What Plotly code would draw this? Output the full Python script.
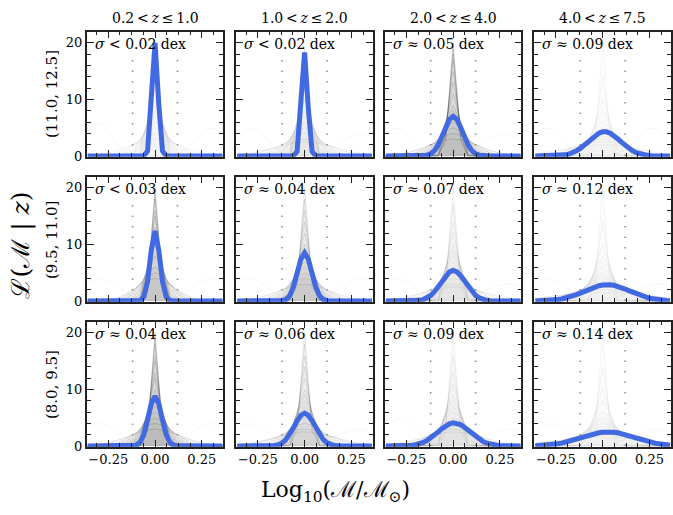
import numpy as np
import plotly.graph_objects as go

# ---------------- data ----------------
Z_EDGES = [(0.2, 1.0), (1.0, 2.0), (2.0, 4.0), (4.0, 7.5)]
MASS_BINS = ["(11.0, 12.5]", "(9.5, 11.0]", "(8.0, 9.5]"]

SIGMA_OP = [["&lt;", "&lt;", "≈", "≈"],
            ["&lt;", "≈", "≈", "≈"],
            ["≈", "≈", "≈", "≈"]]
SIGMA_VAL = [[0.02, 0.02, 0.05, 0.09],
             [0.03, 0.04, 0.07, 0.12],
             [0.04, 0.06, 0.09, 0.14]]

# blue summary curves: peak height, width (dex) and centre
BLUE_PEAK = [[20.0, 18.3, 7.0, 4.3],
             [12.4, 8.5, 5.4, 2.9],
             [8.8, 5.8, 4.1, 2.5]]
BLUE_WIDTH = [[0.016, 0.016, 0.05, 0.085],
              [0.025, 0.038, 0.065, 0.12],
              [0.035, 0.055, 0.085, 0.14]]
BLUE_CENTER = [[0.0, 0.0, 0.0, 0.01],
               [0.0, 0.0, 0.0, 0.025],
               [0.0, 0.0, 0.005, 0.03]]

# grey individual likelihoods: peak heights per panel
GRAY_PEAKS = [
    [[20, 17, 14, 12, 10, 9, 8, 7, 6, 5, 4, 3],
     [19, 16, 14, 12, 10, 8, 7, 6, 5, 4, 3, 2.5],
     [20, 19, 18, 17, 15, 13, 11, 9, 8, 7, 6, 5, 4, 3],
     [20, 14, 10, 8, 6, 5, 4.5, 4, 3.5, 3, 2.5, 2]],
    [[20, 19, 18, 16, 15, 13, 12, 10, 8, 6, 5, 4],
     [20, 18, 16, 14, 12, 10, 9, 8, 7, 6, 5, 4, 3],
     [20, 17, 14, 12, 10, 9, 8, 7, 6, 5, 4, 3, 2.5],
     [20, 14, 10, 8, 7, 6, 5, 4.5, 4, 3.5, 3, 2.5, 2, 1.5]],
    [[20, 19, 18, 16, 15, 13, 12, 10, 9, 8, 7, 6, 5, 4, 3],
     [20, 18, 16, 14, 12, 10, 9, 8, 7, 6, 5, 4, 3, 2.5],
     [20, 16, 13, 11, 9, 8, 7, 6, 5, 4.5, 4, 3.5, 3, 2.5],
     [20, 14, 10, 8, 6, 5, 4.5, 4, 3.5, 3, 2.5, 2, 1.5]],
]
GRAY_ALPHA = [[0.06, 0.08, 0.17, 0.05],
              [0.17, 0.12, 0.08, 0.06],
              [0.17, 0.11, 0.08, 0.06]]
# faint off-centre likelihoods
SIDE_CENTERS = [[[-0.3, 0.3], [-0.28, 0.3], [-0.3, 0.27], [-0.3, 0.26]],
                [[-0.3, 0.3], [-0.3, 0.3], [-0.3, 0.3], [-0.3, 0.3]],
                [[-0.3, 0.3], [-0.3, 0.3], [-0.28, 0.3], [-0.27, 0.3]]]
SIDE_PEAKS = [[[6, 5], [5, 4], [5, 4], [5, 5]],
              [[4, 4], [4, 4], [4, 3], [4, 3]],
              [[4, 4], [4, 3], [5, 3], [4, 3]]]

BOUNDS = [-0.12, 0.12]
X_GRID = np.round(np.arange(-0.36, 0.3601, 0.04), 3)       # grey likelihood grid
X_FINE = np.round(np.arange(-0.36, 0.3601, 0.02), 3)       # summary curve grid

# ---------------- layout geometry ----------------
W, H = 673, 515
COL_LEFT = [87, 237, 386, 536]
ROW_TOP = [32, 179, 326]
PW, PH = 137, 127
YMAX = 22.0
FONT = "DejaVu Serif"
AX_COLOR = "#222222"

fig = go.Figure()
layout = {}


def gauss(x, mu, s, peak):
    return peak * np.exp(-0.5 * ((x - mu) / s) ** 2)


for r in range(3):
    for c in range(4):
        idx = r * 4 + c + 1
        xa = "x" if idx == 1 else f"x{idx}"
        ya = "y" if idx == 1 else f"y{idx}"
        a = GRAY_ALPHA[r][c]
        # grey likelihoods
        for p in GRAY_PEAKS[r][c]:
            s = 1.0 / (np.sqrt(2 * np.pi) * p)
            fig.add_trace(go.Scatter(
                x=X_GRID, y=gauss(X_GRID, 0.0, s, p), mode="lines",
                line=dict(color=f"rgba(50,50,50,{a})", width=1),
                fill="tozeroy", fillcolor=f"rgba(70,70,70,{a*0.15:.4f})",
                xaxis=xa, yaxis=ya, showlegend=False, hoverinfo="skip"))
        for mu, p in zip(SIDE_CENTERS[r][c], SIDE_PEAKS[r][c]):
            s = 1.0 / (np.sqrt(2 * np.pi) * p)
            fig.add_trace(go.Scatter(
                x=X_GRID, y=gauss(X_GRID, mu, s, p), mode="lines",
                line=dict(color="rgba(50,50,50,0.04)", width=1),
                xaxis=xa, yaxis=ya, showlegend=False, hoverinfo="skip"))
        # dotted bounds
        for b in BOUNDS:
            fig.add_trace(go.Scatter(
                x=[b, b], y=[0, 0.8 * YMAX], mode="lines",
                line=dict(color="#8a8a8a", width=1.5, dash="1.5px,9px"),
                xaxis=xa, yaxis=ya, showlegend=False, hoverinfo="skip"))
        # blue summary curve
        fig.add_trace(go.Scatter(
            x=X_FINE, y=gauss(X_FINE, BLUE_CENTER[r][c], BLUE_WIDTH[r][c], BLUE_PEAK[r][c]),
            mode="lines", line=dict(color="royalblue", width=5),
            xaxis=xa, yaxis=ya, showlegend=False, hoverinfo="skip"))

        x0 = COL_LEFT[c] / W
        x1 = (COL_LEFT[c] + PW) / W
        y1 = 1 - ROW_TOP[r] / H
        y0 = 1 - (ROW_TOP[r] + PH) / H
        common = dict(showgrid=False, zeroline=False, showline=True,
                      linecolor=AX_COLOR, linewidth=1.8, mirror="allticks",
                      ticks="inside", ticklen=7, tickwidth=1.3, tickcolor=AX_COLOR,
                      tickfont=dict(family=FONT, size=13, color="black"))
        layout["xaxis" if idx == 1 else f"xaxis{idx}"] = dict(
            common, domain=[x0, x1], anchor=ya, range=[-0.365, 0.365],
            tickmode="linear", tick0=0, dtick=0.25, tickformat=".2f",
            showticklabels=(r == 2),
            minor=dict(ticks="inside", ticklen=4, tickwidth=1.1, tickcolor=AX_COLOR,
                       tick0=0, dtick=0.0625))
        layout["yaxis" if idx == 1 else f"yaxis{idx}"] = dict(
            common, domain=[y0, y1], anchor=xa, range=[-0.15, YMAX],
            tickmode="linear", tick0=0, dtick=10,
            showticklabels=(c == 0),
            minor=dict(ticks="inside", ticklen=4, tickwidth=1.1, tickcolor=AX_COLOR,
                       tick0=0, dtick=2))

annotations = []
for r in range(3):
    for c in range(4):
        annotations.append(dict(
            text=f"<i>σ</i> {SIGMA_OP[r][c]} {SIGMA_VAL[r][c]:.2f} dex",
            x=(COL_LEFT[c] + 6) / W, y=1 - (ROW_TOP[r] + 13) / H,
            xref="paper", yref="paper", xanchor="left", yanchor="middle",
            showarrow=False, font=dict(family=FONT, size=14, color="black")))
for c, (lo, hi) in enumerate(Z_EDGES):
    annotations.append(dict(
        text=f"{lo:.1f}\u2009&lt;\u2009<i>z</i>\u2009≤\u2009{hi:.1f}",
        x=(COL_LEFT[c] + PW / 2) / W, y=1 - 18 / H,
        xref="paper", yref="paper", xanchor="center", yanchor="middle",
        showarrow=False, font=dict(family=FONT, size=14, color="black")))
for r, lab in enumerate(MASS_BINS):
    annotations.append(dict(
        text=lab, x=52 / W, y=1 - (ROW_TOP[r] + PH / 2) / H,
        xref="paper", yref="paper", xanchor="center", yanchor="middle",
        textangle=-90, showarrow=False,
        font=dict(family=FONT, size=15, color="black")))
annotations.append(dict(
    text="ℒ(ℳ | <i>z</i>)", x=21 / W, y=1 - 248 / H,
    xref="paper", yref="paper", xanchor="center", yanchor="middle",
    textangle=-90, showarrow=False,
    font=dict(family=FONT, size=25, color="black")))
annotations.append(dict(
    text="Log<sub>10</sub>(ℳ/ℳ<sub>⊙</sub>)", x=336 / W, y=1 - 498 / H,
    xref="paper", yref="paper", xanchor="center", yanchor="middle",
    showarrow=False, font=dict(family=FONT, size=22, color="black")))

fig.update_layout(
    width=W, height=H, margin=dict(l=0, r=0, t=0, b=0),
    paper_bgcolor="white", plot_bgcolor="white",
    annotations=annotations, **layout)

fig.write_html("out.html")
